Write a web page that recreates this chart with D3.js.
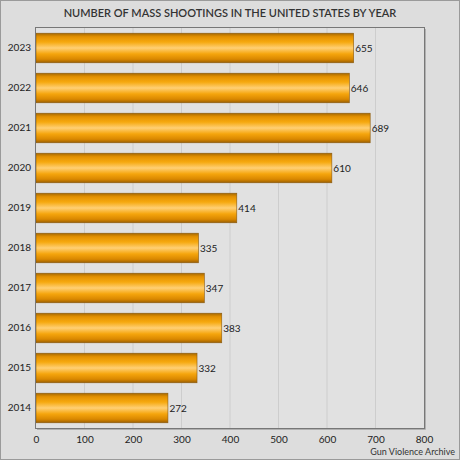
<!DOCTYPE html>
<html><head><meta charset="utf-8">
<script src="https://cdn.jsdelivr.net/npm/d3@7"></script>
<style>html,body{margin:0;padding:0;background:#dcdcdc;}svg{display:block;}</style>
</head><body>
<script>
const years = ["2023","2022","2021","2020","2019","2018","2017","2016","2015","2014"];
const shootings = [655,646,689,610,414,335,347,383,332,272];
const xTicks = [0,100,200,300,400,500,600,700,800];
const title = "NUMBER OF MASS SHOOTINGS IN THE UNITED STATES BY YEAR";
const source = "Gun Violence Archive";

const W = 460, H = 460;
const m = {left: 36, right: 36, top: 28, bottom: 32};
const svg = d3.select("body").append("svg").attr("width", W).attr("height", H);
const font = "Lato, 'Open Sans', sans-serif";

svg.append("rect").attr("x",0.5).attr("y",0.5).attr("width",W-1).attr("height",H-1)
  .attr("fill","#dddddd").attr("stroke","#9a9a9a");

const defs = svg.append("defs");
const g = defs.append("linearGradient").attr("id","barg").attr("x1",0).attr("y1",0).attr("x2",0).attr("y2",1);
[[0,"#a56800"],[0.12,"#e39000"],[0.3,"#f6a90f"],[0.5,"#ffcf74"],[0.7,"#f5a50c"],[0.88,"#d98700"],[1,"#9a5f00"]]
  .forEach(([o,c])=>g.append("stop").attr("offset",o).attr("stop-color",c));

const x = d3.scaleLinear().domain([0,800]).range([m.left, W-m.right]);
const y = d3.scaleBand().domain(years).range([m.top, H-m.bottom]).paddingInner(0.26).paddingOuter(0.13);

svg.append("rect").attr("x",m.left).attr("y",m.top).attr("width",W-m.left-m.right).attr("height",H-m.top-m.bottom)
  .attr("fill","#e1e1e1");

svg.append("g").selectAll("line").data(xTicks.slice(1,-1)).join("line")
  .attr("x1",d=>x(d)).attr("x2",d=>x(d)).attr("y1",m.top).attr("y2",H-m.bottom)
  .attr("stroke","#cdcdcd").attr("stroke-width",1);

const data = years.map((yr,i)=>({yr, v: shootings[i]}));
svg.append("g").selectAll("rect").data(data).join("rect")
  .attr("x",x(0)).attr("y",d=>y(d.yr)).attr("width",d=>x(d.v)-x(0)).attr("height",y.bandwidth())
  .attr("fill","url(#barg)").attr("stroke","#8a5a10").attr("stroke-width",0.6);

svg.append("g").selectAll("text").data(data).join("text")
  .attr("x",d=>x(d.v)+1.5).attr("y",d=>y(d.yr)+y.bandwidth()/2).attr("dy","0.35em")
  .attr("font-family",font).attr("font-size",10).attr("fill","#222").text(d=>d.v);

// plot border
svg.append("rect").attr("x",m.left-0.5).attr("y",m.top-0.5).attr("width",W-m.left-m.right+1).attr("height",H-m.top-m.bottom+1)
  .attr("fill","none").attr("stroke","#777").attr("stroke-width",1);
svg.append("path").attr("d",`M${W-m.right+1.5},${m.top+1}V${H-m.bottom+1.5}H${m.left+1}`)
  .attr("fill","none").attr("stroke","#b0b0b0").attr("stroke-width",1);

const yAxis = svg.append("g").attr("transform",`translate(${m.left},0)`)
  .call(d3.axisLeft(y).tickSize(0).tickPadding(5));
yAxis.select(".domain").remove();
yAxis.selectAll("text").attr("font-family",font).attr("font-size",10).attr("fill","#222");

const xAxis = svg.append("g").attr("transform",`translate(0,${H-m.bottom})`)
  .call(d3.axisBottom(x).tickValues(xTicks).tickSize(0).tickPadding(8));
xAxis.select(".domain").remove();
xAxis.selectAll("text").attr("font-family",font).attr("font-size",10).attr("fill","#222");

svg.append("text").attr("x",W/2).attr("y",17).attr("text-anchor","middle")
  .attr("font-family",font).attr("font-size",11).attr("font-weight",600).attr("fill","#333").text(title);

svg.append("text").attr("x",W-5).attr("y",H-5).attr("text-anchor","end")
  .attr("font-family",font).attr("font-size",9).attr("fill","#333").text(source);
</script>
</body></html>
